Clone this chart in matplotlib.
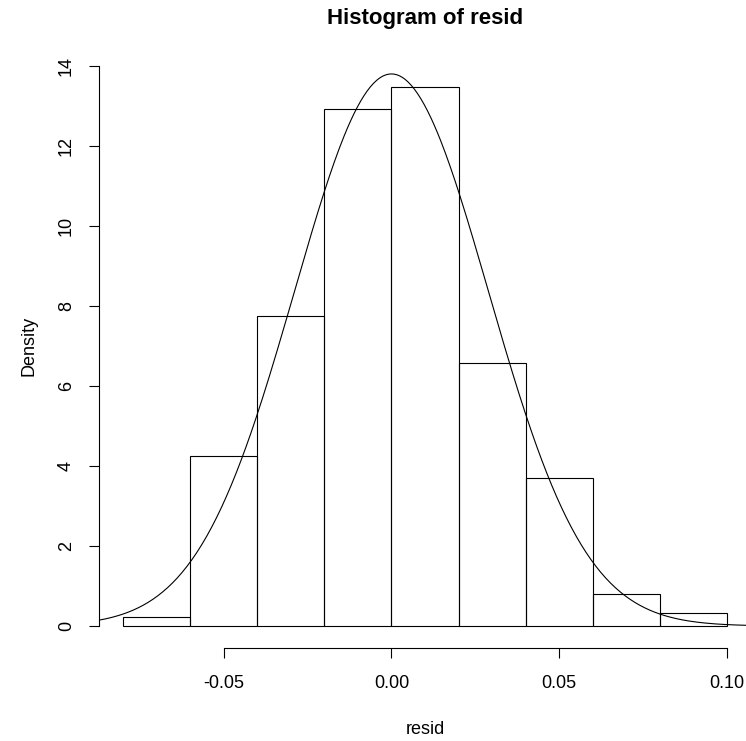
import numpy as np
import matplotlib.pyplot as plt

plt.rcParams['font.family'] = ['Liberation Sans', 'DejaVu Sans']

# histogram of residuals (density scale)
bin_edges = [-0.08, -0.06, -0.04, -0.02, 0.00, 0.02, 0.04, 0.06, 0.08, 0.10]
density = [0.225, 4.25, 7.75, 12.92, 13.475, 6.575, 3.7, 0.79, 0.32]

# fitted normal curve
mu = 0.0
sigma = 0.0289

x_ticks = [-0.05, 0.00, 0.05, 0.10]
y_ticks = [0, 2, 4, 6, 8, 10, 12, 14]

fig = plt.figure(figsize=(7.46, 7.41), dpi=100)
ax = fig.add_axes([0.1327, 0.125, 0.874, 0.816])

lefts = np.array(bin_edges[:-1])
widths = np.diff(bin_edges)
ax.bar(lefts, density, width=widths, align='edge', fill=False,
       edgecolor='black', linewidth=0.8)

# R-style 4% range extension
lo, hi = bin_edges[0], bin_edges[-1]
pad = 0.04 * (hi - lo)
ax.set_xlim(lo - pad, hi + pad)
ax.set_ylim(-0.04 * 14, 14 * 1.04)

xs = np.linspace(lo - pad, hi + pad, 400)
ys = np.exp(-0.5 * ((xs - mu) / sigma) ** 2) / (sigma * np.sqrt(2 * np.pi))
ax.plot(xs, ys, color='black', linewidth=0.8)

for side in ['top', 'right']:
    ax.spines[side].set_visible(False)
ax.spines['left'].set_bounds(0, 14)
ax.spines['bottom'].set_bounds(-0.05, 0.10)
for side in ['left', 'bottom']:
    ax.spines[side].set_linewidth(0.8)

ax.set_xticks(x_ticks)
ax.set_xticklabels(['%.2f' % v for v in x_ticks])
ax.set_yticks(y_ticks)
ax.set_yticklabels([str(v) for v in y_ticks], rotation=90, va='center')
ax.tick_params(axis='both', length=7.2, width=0.8, labelsize=13, color='black')
ax.tick_params(axis='x', pad=12)
ax.tick_params(axis='y', pad=10)

ax.set_xlabel('resid', fontsize=13, labelpad=21)
ax.set_ylabel('Density', fontsize=13, labelpad=15)
ax.set_title('Histogram of resid', fontsize=16, fontweight='bold', pad=14)

fig.savefig('out.png', dpi=100)
